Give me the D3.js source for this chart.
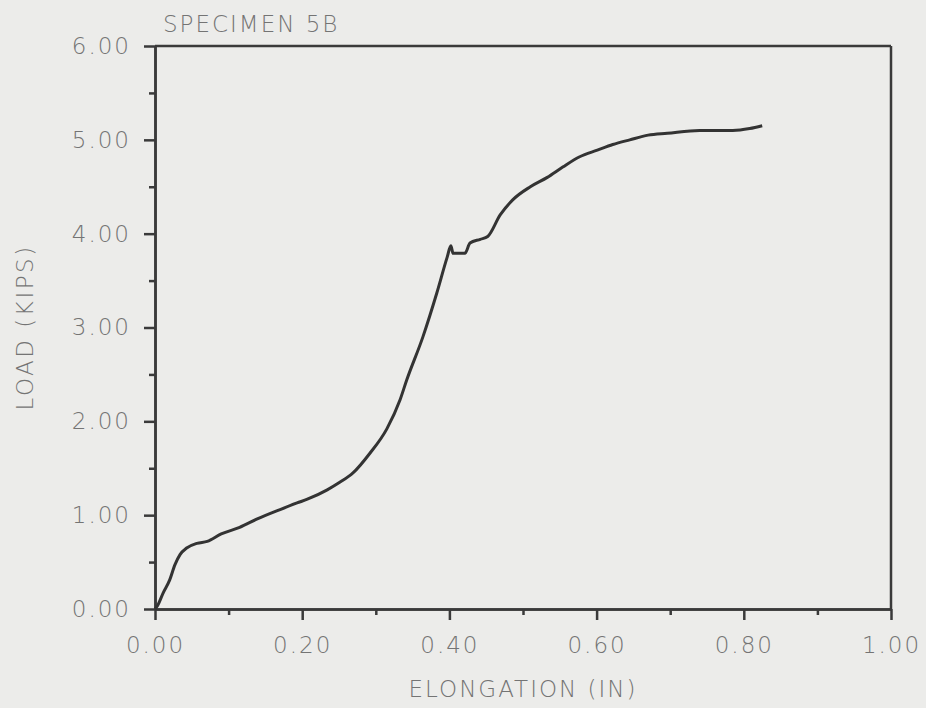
<!DOCTYPE html>
<html>
<head>
<meta charset="utf-8">
<style>
    body { margin: 0; background-color: #ececea; }
    svg { display: block; background-color: #ececea; }
    text {
        font-family: "DejaVu Sans", sans-serif;
        font-weight: 200;
        fill: #747474;
    }
</style>
<script src="https://cdn.jsdelivr.net/npm/d3@7"></script>
</head>
<body>
<svg id="chart" width="926" height="708"></svg>
<script>
    // values: elongation (in) vs load (kips)
    var elongation = [0.000, 0.003, 0.011, 0.020, 0.027, 0.034, 0.043, 0.057, 0.071, 0.090,
                      0.115, 0.139, 0.170, 0.193, 0.207, 0.234, 0.251, 0.269, 0.292, 0.315,
                      0.333, 0.342, 0.364, 0.383, 0.397, 0.402, 0.405, 0.421, 0.428, 0.442,
                      0.452, 0.469, 0.486, 0.510, 0.533, 0.554, 0.577, 0.601, 0.622, 0.645,
                      0.670, 0.696, 0.740, 0.785, 0.808, 0.825];
    var load = [0.00, 0.03, 0.17, 0.31, 0.47, 0.58, 0.65, 0.70, 0.72, 0.80,
                0.87, 0.96, 1.06, 1.13, 1.17, 1.27, 1.35, 1.45, 1.66, 1.92,
                2.23, 2.44, 2.90, 3.37, 3.75, 3.87, 3.79, 3.79, 3.90, 3.94,
                3.97, 4.20, 4.36, 4.50, 4.60, 4.71, 4.82, 4.89, 4.95, 5.00,
                5.05, 5.07, 5.10, 5.10, 5.12, 5.15];
    var xTicks = [0, 0.2, 0.4, 0.6, 0.8, 1.0];
    var xMinor = [0.1, 0.3, 0.5, 0.7, 0.9];
    var yTicks = [0, 1, 2, 3, 4, 5, 6];
    var yMinor = [0.5, 1.5, 2.5, 3.5, 4.5, 5.5];
    var title = "SPECIMEN 5B";
    var xTitle = "ELONGATION (IN)";
    var yTitle = "LOAD (KIPS)";

    var svg = d3.select("#chart");
    var mLeft = 155, mRight = 891, mTop = 46, mBottom = 609;
    var ink = "#3a3a3a";

    var x = d3.scaleLinear().domain([0, 1]).range([mLeft, mRight]);
    var y = d3.scaleLinear().domain([0, 6]).range([mBottom, mTop]);

    // frame: top and right edges
    svg.append("line").attr("x1", x(0)).attr("x2", x(1)).attr("y1", y(6)).attr("y2", y(6))
        .attr("stroke", ink).attr("stroke-width", 2.5);
    svg.append("line").attr("x1", x(1)).attr("x2", x(1)).attr("y1", y(6)).attr("y2", y(0))
        .attr("stroke", ink).attr("stroke-width", 2.5);

    // x axis
    var xAxis = d3.axisBottom(x).tickValues(xTicks).tickSize(11).tickSizeOuter(0)
        .tickPadding(17).tickFormat(d3.format(".2f"));
    svg.append("g").attr("transform", "translate(0," + mBottom + ")").call(xAxis);
    svg.append("g").attr("transform", "translate(0," + mBottom + ")")
        .call(d3.axisBottom(x).tickValues(xMinor).tickSize(6).tickSizeOuter(0).tickFormat(""));

    // y axis
    var yAxis = d3.axisLeft(y).tickValues(yTicks).tickSize(11).tickSizeOuter(0)
        .tickPadding(13).tickFormat(d3.format(".2f"));
    svg.append("g").attr("transform", "translate(" + mLeft + ",0)").call(yAxis);
    svg.append("g").attr("transform", "translate(" + mLeft + ",0)")
        .call(d3.axisLeft(y).tickValues(yMinor).tickSize(6).tickSizeOuter(0).tickFormat(""));

    svg.selectAll(".domain").attr("stroke", ink).attr("stroke-width", 2.5);
    svg.selectAll(".tick line").attr("stroke", ink).attr("stroke-width", 2.5);
    svg.selectAll(".tick text").style("font-size", "23px").style("letter-spacing", "2px")
        .attr("fill", "#747474");

    // curve
    var pts = elongation.map(function (e, i) { return [e, load[i]]; });
    var line = d3.line()
        .curve(d3.curveMonotoneX)
        .x(function (d) { return x(d[0]); })
        .y(function (d) { return y(d[1]); });
    svg.append("path").datum(pts).attr("d", line)
        .attr("fill", "none").attr("stroke", "#333")
        .attr("stroke-width", 3).attr("stroke-linejoin", "round");

    // titles
    svg.append("text").attr("x", 163).attr("y", 32).style("font-size", "23px")
        .style("letter-spacing", "2px").text(title);
    svg.append("text").attr("x", (mLeft + mRight) / 2).attr("y", 697)
        .attr("text-anchor", "middle").style("font-size", "23px")
        .style("letter-spacing", "2px").text(xTitle);
    svg.append("text").attr("transform", "translate(33," + (mTop + mBottom) / 2 + ") rotate(-90)")
        .attr("text-anchor", "middle").style("font-size", "23px")
        .style("letter-spacing", "2.5px").text(yTitle);
</script>
</body>
</html>
